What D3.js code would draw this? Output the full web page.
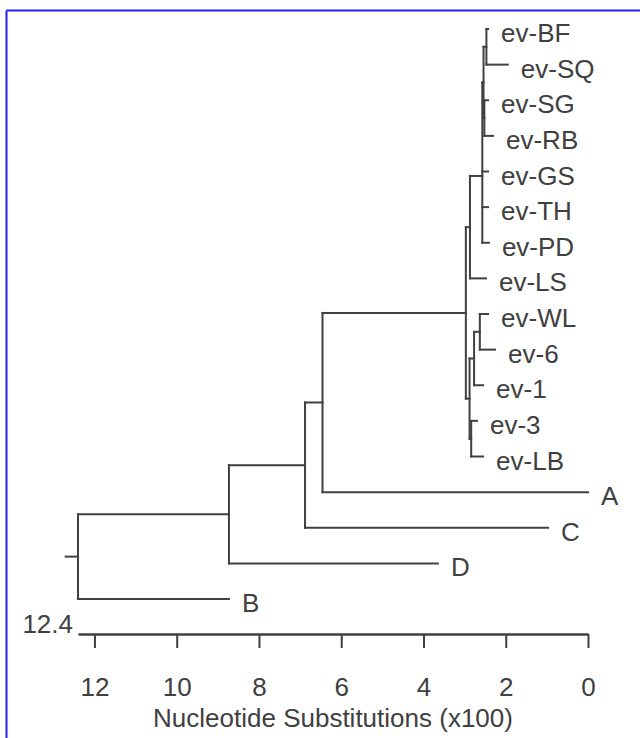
<!DOCTYPE html>
<html><head><meta charset="utf-8">
<script src="https://cdn.jsdelivr.net/npm/d3@7"></script>
<style>html,body{margin:0;padding:0;background:#fff}</style>
</head><body>
<svg id="chart" width="640" height="738"></svg>
<script>
// Leaves in display order, with tip positions on the axis (substitutions x100)
const leafNames = ["ev-BF","ev-SQ","ev-SG","ev-RB","ev-GS","ev-TH","ev-PD","ev-LS","ev-WL","ev-6","ev-1","ev-3","ev-LB","A","C","D","B"];
const leafHeights = [2.43,1.95,2.43,2.31,2.43,2.43,2.41,2.48,2.43,2.26,2.55,2.70,2.55,0,0.97,3.65,8.73];
// Internal nodes
const nodeNames = ["N1","N2","S","X","E1","W2","Y","Z","E2","E","N322","N305","N229","root"];
const nodeChildren = [["ev-BF","ev-SQ"],["ev-SG","ev-RB"],["N1","N2"],["S","ev-GS","ev-TH","ev-PD"],["X","ev-LS"],["ev-WL","ev-6"],["W2","ev-1"],["ev-3","ev-LB"],["Y","Z"],["E1","E2"],["E","A"],["N322","C"],["N305","D"],["N229","B"]];
const nodeHeights = [2.47,2.52,2.54,2.57,2.87,2.63,2.77,2.84,2.88,2.97,6.455,6.88,8.73,12.4];
const rootStub = 12.7;
const scaleLabel = "12.4";
const tickValues = [12,10,8,6,4,2,0];
const axisTitle = "Nucleotide Substitutions (x100)";

const FONT = "'Liberation Sans', Arial, sans-serif";
const INK = "#404040";
const FS = 26;

const svg = d3.select("#chart");
// blue frame (top and left edges)
svg.append("line").attr("x1",6.5).attr("y1",10.5).attr("x2",640).attr("y2",10.5).attr("stroke","#1f1fff").attr("stroke-width",2);
svg.append("line").attr("x1",6.5).attr("y1",10.5).attr("x2",6.5).attr("y2",738).attr("stroke","#1f1fff").attr("stroke-width",2);

// build hierarchy
const map = new Map();
leafNames.forEach((n,i)=>map.set(n,{name:n,h:leafHeights[i]}));
nodeNames.forEach((n,i)=>map.set(n,{name:n,h:nodeHeights[i]}));
nodeNames.forEach((n,i)=>{map.get(n).children = nodeChildren[i].map(c=>map.get(c));});
const root = d3.hierarchy(map.get("root"));

const x = d3.scaleLinear().domain([12.4,0]).range([78,588]);
const y = d3.scalePoint().domain(leafNames).range([29,599]);

root.eachAfter(d=>{
  if(!d.children) d.y = y(d.data.name);
  else d.y = d3.mean(d.children, c=>c.y);
});

const g = svg.append("g").attr("fill","none").attr("stroke",INK).attr("stroke-width",2).attr("stroke-linecap","square");
root.each(d=>{
  if(!d.children) return;
  const xn = x(d.data.h);
  g.append("line").attr("x1",xn).attr("x2",xn)
    .attr("y1",d3.min(d.children,c=>c.y)).attr("y2",d3.max(d.children,c=>c.y));
  d.children.forEach(c=>{
    g.append("line").attr("x1",xn).attr("x2",x(c.data.h)).attr("y1",c.y).attr("y2",c.y);
  });
});
g.append("line").attr("x1",x(rootStub)).attr("x2",x(root.data.h)).attr("y1",root.y).attr("y2",root.y);

// leaf labels
svg.append("g").selectAll("text").data(root.leaves()).join("text")
  .attr("x",d=>x(d.data.h)+13).attr("y",d=>d.y+13)
  .attr("font-family",FONT).attr("font-size",FS).attr("fill",INK)
  .text(d=>d.data.name);

// axis
const axis = d3.axisBottom(x).tickValues(tickValues).tickSize(14).tickSizeOuter(0).tickPadding(30).tickFormat(d3.format("d"));
const ag = svg.append("g").attr("transform","translate(0,634)").call(axis);
ag.select(".domain").attr("stroke",INK).attr("stroke-width",2.5);
ag.selectAll(".tick line").attr("stroke",INK).attr("stroke-width",2);
ag.selectAll(".tick text").attr("font-family",FONT).attr("font-size",FS).attr("fill",INK);

svg.append("text").attr("x",73).attr("y",633).attr("text-anchor","end")
  .attr("font-family",FONT).attr("font-size",FS).attr("fill",INK).text(scaleLabel);

svg.append("text").attr("x",333).attr("y",727).attr("text-anchor","middle")
  .attr("font-family",FONT).attr("font-size",FS).attr("fill",INK).text(axisTitle);
</script>
</body></html>
